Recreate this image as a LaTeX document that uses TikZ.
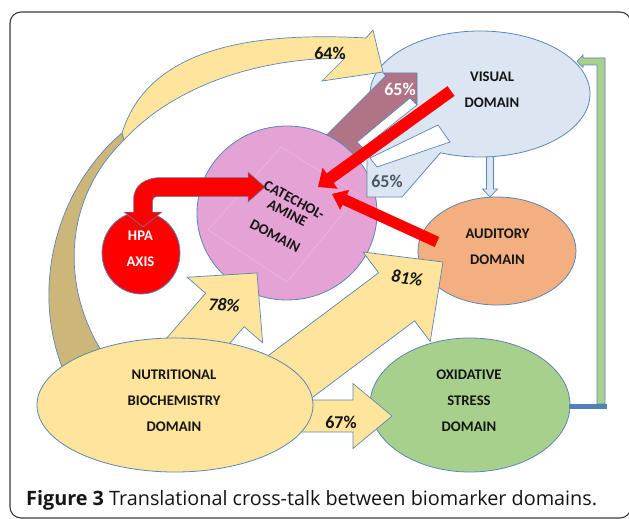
\documentclass[tikz,border=0pt]{standalone}
\usepackage{fontspec}
\setmainfont{Carlito}
\newfontfamily\captionfont{Open Sans}
\usetikzlibrary{shapes.geometric,calc,positioning}

\definecolor{edgeblue}{HTML}{5B86B8}
\definecolor{visfill}{HTML}{DCE6F2}
\definecolor{audfill}{HTML}{F3AF80}
\definecolor{oxifill}{HTML}{A8D08D}
\definecolor{nutfill}{HTML}{FEE59B}
\definecolor{tanfill}{HTML}{CCB679}
\definecolor{catfill}{HTML}{E5A2D5}
\definecolor{mauve}{HTML}{B07486}
\definecolor{hpared}{HTML}{FF0000}
\definecolor{pctgray}{HTML}{4A5868}
\definecolor{framegray}{HTML}{3A3A3A}
\definecolor{greenbar}{HTML}{A9D18E}
\definecolor{bluebar}{HTML}{4F81BD}
\definecolor{labelblack}{HTML}{151515}

% block arrow: [style]{from}{to}{shaft half width}{head half width}{head length}
\newcommand\blockarrow[6][]{%
  \path[blockarr,#1] ($(#2)!#4!90:(#3)$) -- ($(#3)!#6!(#2)!#4!-90:(#2)$)
    -- ($(#3)!#6!(#2)!#5!-90:(#2)$) -- (#3) -- ($(#3)!#6!(#2)!#5!90:(#2)$)
    -- ($(#3)!#6!(#2)!#4!90:(#2)$) -- ($(#2)!#4!-90:(#3)$) -- cycle;}

\tikzset{
  domainnode/.style={ellipse, draw=edgeblue, line width=0.8pt, inner sep=0pt},
  lbl/.style={font=\fontsize{14.7}{26}\selectfont\bfseries, align=center, text=labelblack, inner sep=0pt},
  pct/.style={font=\fontsize{18}{20}\selectfont\bfseries, text=labelblack, inner sep=0pt},
  pcti/.style={pct, font=\fontsize{18}{20}\selectfont\bfseries\itshape},
  blockarr/.style={draw=edgeblue, line width=0.7pt, line join=miter},
}

\begin{document}
\begin{tikzpicture}[x=1pt,y=-1pt]
\useasboundingbox (0,0) rectangle (629,519);
\draw[framegray, line width=1.1pt, rounded corners=11pt] (10,12) rectangle (631,518);

\node[domainnode, fill=audfill, minimum width=158pt, minimum height=108pt] (auditory) at (497,251) {};
\node[domainnode, fill=oxifill, minimum width=200pt, minimum height=134pt] (oxidative) at (470,405) {};

\coordinate (va1) at (490,150);
\coordinate (va2) at (490,197);
\blockarrow[fill=visfill]{va1}{va2}{3.5pt}{7.5pt}{8pt}
\node[domainnode, fill=visfill, minimum width=220pt, minimum height=126pt] (visual) at (480,94) {};

% oxidative stress back to visual
\draw[blockarr, fill=greenbar] (597,404) -- (597,65) -- (583,65) -- (583,67.5) -- (577,61.5)
  -- (583,55) -- (583,58) -- (605,58) -- (605,404) -- cycle;
\fill[bluebar] (569,404) rectangle (607,409);

% 65% both ways between catecholamine and visual
\coordinate (c65s) at (336,154);
\coordinate (c65e) at (417,73);
\blockarrow[fill=mauve]{c65s}{c65e}{20pt}{24pt}{24pt}
\node[domainnode, fill=catfill, minimum width=180pt, minimum height=174pt] (catechol) at (287,213) {};
\draw[catfill!70!white, line width=0.4pt] (281,147) -- (358,195) -- (287,282) -- (208,230) -- cycle;
\fill[visfill] (367,197) -- (367,160) -- (363,148) -- (417,105) -- (450,108) -- (456,137) -- (402,197) -- cycle;
\draw[blockarr] (367,160) -- (367,197) -- (402,197) -- (441,152);
\draw[blockarr, fill=white] (357,142) -- (410,98) -- (417,105) -- (363,148) -- cycle;
\draw[blockarr, fill=white] (370,158) -- (438,125) -- (450,142) -- (377,167) -- cycle;

% 64% curved arrow
\draw[blockarr, fill=tanfill] (122,133) .. controls (55,190) and (30,290) .. (64,372) -- (106,358)
  .. controls (60,290) and (62,200) .. (124,140) -- cycle;
\draw[blockarr, fill=nutfill] (122,133) .. controls (145,60) and (225,30) .. (366,38) -- (373,30)
  -- (383,72) -- (322,81) -- (345,58) .. controls (250,58) and (170,90) .. (124,140) -- cycle;

% red arrows into catecholamine
\coordinate (r1s) at (451,91);
\coordinate (r1e) at (318,187);
\blockarrow[fill=hpared, draw=none]{r1s}{r1e}{6pt}{13pt}{15pt}
\coordinate (r2s) at (437,242);
\coordinate (r2e) at (332,194);
\blockarrow[fill=hpared, draw=none]{r2s}{r2e}{5.5pt}{11pt}{14pt}

\node[domainnode, fill=hpared, minimum width=78pt, minimum height=82pt] (hpa) at (141,253) {};
\draw[fill=hpared, draw=edgeblue, line width=0.5pt, line join=miter] (133.5,212) -- (133.5,200)
  .. controls (133.5,185) and (145,177.5) .. (162,177.5) -- (248,177.5) -- (248,172) -- (265,187)
  -- (248,202) -- (248,196.5) -- (157,196.5) .. controls (154,196.5) and (152.5,198) .. (152.5,201)
  -- (152.5,212) -- (162,212) -- (143,227) -- (124,212) -- cycle;

% arrows out of nutritional biochemistry
\coordinate (y78s) at (178,364);
\coordinate (y78e) at (257,273);
\blockarrow[fill=nutfill]{y78s}{y78e}{25.5pt}{50pt}{49pt}
\coordinate (y81s) at (267,394);
\coordinate (y81e) at (443,262);
\blockarrow[fill=nutfill]{y81s}{y81e}{30pt}{56pt}{58pt}
\coordinate (y67s) at (290,416);
\coordinate (y67e) at (392,416);
\blockarrow[fill=nutfill]{y67s}{y67e}{16pt}{32.5pt}{39pt}
\node[domainnode, fill=nutfill, minimum width=276pt, minimum height=134pt] (nutrition) at (175,405) {};

\node[lbl] at ($(visual)+(12,-4)$) {VISUAL\\DOMAIN};
\node[lbl] at ($(auditory)+(0.5,-4.5)$) {AUDITORY\\DOMAIN};
\node[lbl] at ($(oxidative)+(-1,-4)$) {OXIDATIVE\\STRESS\\DOMAIN};
\node[lbl] at ($(nutrition)+(-1,-4)$) {NUTRITIONAL\\BIOCHEMISTRY\\DOMAIN};
\node[lbl, text=white] at ($(hpa)+(-0.5,-4)$) {HPA\\AXIS};
\node[lbl, rotate=-28] (catlabel) at (284.7,217.9) {CATECHOL-\\[-11.4pt]AMINE\\DOMAIN};

\node[pct] at (330,53) {64\%};
\node[pct, text=white] at (400,89) {65\%};
\node[pct, text=pctgray] at (387,181) {65\%};
\node[pcti, rotate=-3] at (224,305) {78\%};
\node[pcti, rotate=-8] at (407,278) {81\%};
\node[pct] at (341,422) {67\%};

\node[anchor=base west, inner sep=0pt, font=\captionfont\fontsize{19.8}{22}\selectfont, text=labelblack]
  (caption) at (26,505) {\textbf{Figure 3} Translational cross-talk between biomarker domains.};
\end{tikzpicture}
\end{document}
